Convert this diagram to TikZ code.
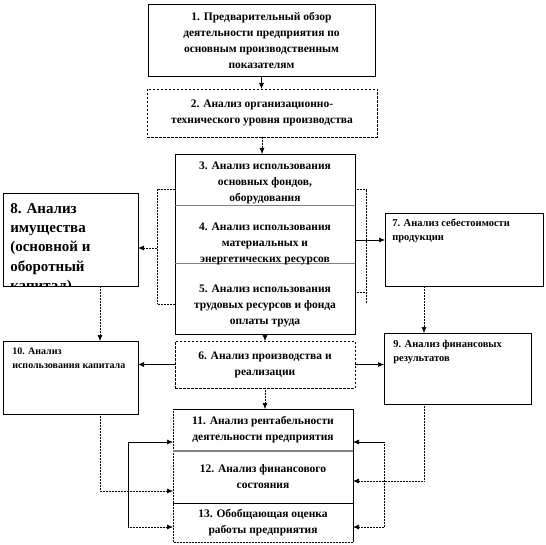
\documentclass[tikz,border=0pt]{standalone}
\usepackage{fontspec}
\setmainfont{Liberation Serif}
\usetikzlibrary{arrows.meta}
\begin{document}
\begin{tikzpicture}[x=1pt,y=-1pt, line width=0.6pt,
  frame/.style={draw=black, line width=0.6pt, inner sep=0pt, outer sep=0pt, anchor=north west},
  noframe/.style={inner sep=0pt, outer sep=0pt, anchor=north west},
  ctxt/.style={align=center, font=\fontsize{11.5}{16}\selectfont\bfseries},
  stxt/.style={align=left, anchor=north west, inner sep=0pt, font=\fontsize{10.5}{13.5}\selectfont\bfseries},
  dashedbox/.style={dash pattern=on 2.5pt off 1.5pt},
  dots/.style={dash pattern=on 0.8pt off 0.7pt},
  arr/.style={-{Latex[length=6pt,width=5pt]}}
]
\useasboundingbox (0,0) rectangle (546,545);

% boxes
\node[frame, ctxt, minimum width=227pt, minimum height=72pt] (b1) at (148,4)
  {1. Предварительный обзор\\деятельности предприятия по\\основным производственным\\показателям};
\node[frame, ctxt, dashedbox, minimum width=230pt, minimum height=48pt] (b2) at (147,89)
  {2. Анализ организационно-\\технического уровня производства};

\node[noframe, minimum width=180pt, minimum height=52pt] (b3) at (175,154) {};
\node[noframe, minimum width=180pt, minimum height=58pt] (b4) at (175,206) {};
\node[noframe, minimum width=180pt, minimum height=70pt] (b5) at (175,264) {};
\draw (b3.north west) rectangle (b5.south east);
\draw[gray, line width=1pt] (b4.north west) -- (b4.north east);
\draw[gray, line width=1pt] (b5.north west) -- (b5.north east);
\node[ctxt, inner sep=0pt] (t3) at (265,183) {3. Анализ использования\\основных фондов,\\оборудования};
\node[ctxt, inner sep=0pt] (t4) at (265,244) {4. Анализ использования\\материальных и\\энергетических ресурсов};
\node[ctxt, inner sep=0pt] (t5) at (265,306) {5. Анализ использования\\трудовых ресурсов и фонда\\оплаты труда};

\node[frame, ctxt, dashedbox, minimum width=180pt, minimum height=47pt] (b6) at (175,341)
  {6. Анализ производства и\\реализации};

\node[frame, minimum width=158pt, minimum height=73pt] (b7) at (385,213) {};
\node[stxt] (t7) at (392,219) {7. Анализ себестоимости\\продукции};

\node[frame, minimum width=135pt, minimum height=93pt] (b8) at (3,193) {};
\begin{scope}
  \clip (3,193) rectangle (138,286);
  \node[anchor=north west, inner sep=0pt, align=left,
        font=\fontsize{15}{19.3}\selectfont\bfseries] (t8) at (10,203)
    {8. Анализ\\имущества\\(основной и\\оборотный\\капитал)};
\end{scope}

\node[frame, minimum width=147pt, minimum height=71pt] (b9) at (384,333) {};
\node[stxt] (t9) at (393,340) {9. Анализ финансовых\\результатов};

\node[frame, minimum width=135pt, minimum height=73pt] (b10) at (3,341) {};
\node[stxt, font=\fontsize{10}{13.5}\selectfont\bfseries] (t10) at (12,348) {10. Анализ\\использования капитала};

\node[noframe, ctxt, minimum width=180pt, minimum height=42pt] (b11) at (173,409)
  {11. Анализ рентабельности\\деятельности предприятия};
\node[noframe, ctxt, minimum width=180pt, minimum height=52pt] (b12) at (173,451)
  {12. Анализ финансового\\состояния};
\node[noframe, ctxt, minimum width=180pt, minimum height=39pt] (b13) at (173,503)
  {13. Обобщающая оценка\\работы предприятия};
\draw[dots] (b11.north west) -- (b13.south west) -- (b13.south east);
\draw (b11.north west) -- (b11.north east) -- (b13.south east);
\draw[gray, line width=1.5pt] (b12.north west) -- (b12.north east);
\draw (b13.north west) -- (b13.north east);

% connectors
\draw[arr] (b1.south) -- (b1.south |- b2.north);
\draw[arr, dots] (b2.south) -- (b2.south |- b3.north);

\coordinate (lb1) at (157,189);
\coordinate (lb2) at (157,304);
\coordinate (lbm) at (157,248);
\draw[dots] (b3.west |- lb1) -- (lb1) -- (lb2) -- (b5.west |- lb2);
\draw[arr, dots] (lbm) -- (b8.east |- lbm);

\coordinate (rb1) at (366,189);
\coordinate (rb2) at (366,303);
\coordinate (rb3) at (366,292);
\draw[dots] (b3.east |- rb1) -- (rb1) -- (rb2);
\draw[dots] (b5.east |- rb3) -- (rb3);
\coordinate (r4) at (355,240);
\draw[arr] (r4) -- (b7.west |- r4);

\draw[arr] (b5.south) -- (b6.north);
\coordinate (c100) at (100,0);
\draw[arr, dots] (b8.south -| c100) -- (b10.north -| c100);
\draw[arr] (b6.west) -- (b10.east |- b6.west);
\draw[arr] (b6.east) -- (b9.west |- b6.east);
\coordinate (c424) at (424,0);
\draw[arr, dots] (b7.south -| c424) -- (b9.north -| c424);
\draw[arr, dots] (b6.south) -- (b6.south |- b11.north);

\coordinate (k1) at (100,491);
\draw[arr, dots] (b10.south -| k1) -- (k1) -- (b12.west |- k1);
\coordinate (k2) at (424,481);
\draw[arr, dots] (b9.south -| k2) -- (k2) -- (b12.east |- k2);

\coordinate (m1) at (128,442);
\coordinate (m2) at (128,527);
\draw[arr] (m2) -- (m1) -- (b11.west |- m1);
\draw[arr, dots] (m2) -- (b13.west |- m2);

\coordinate (n1) at (384,442);
\coordinate (n2) at (384,527);
\draw[arr] (n1) -- (b11.east |- n1);
\draw[dots] (n1) -- (n2);
\draw[arr, dots] (n2) -- (b13.east |- n2);
\end{tikzpicture}
\end{document}
